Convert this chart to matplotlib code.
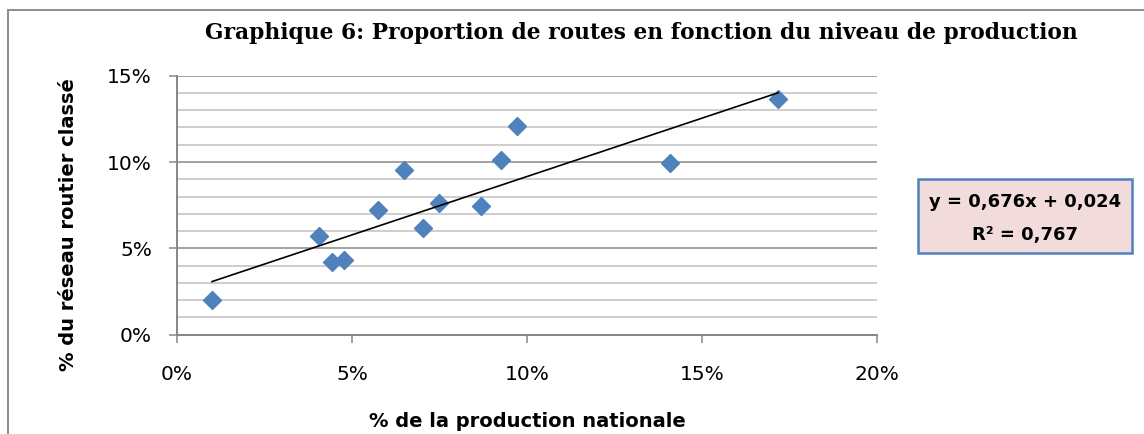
import numpy as np
import matplotlib
matplotlib.use("Agg")
import matplotlib.pyplot as plt
from matplotlib.ticker import PercentFormatter, MultipleLocator
from matplotlib.patches import Rectangle
from matplotlib.lines import Line2D

# % de la production nationale vs % du réseau routier classé
prod = np.array([1.0, 4.06, 4.44, 4.77, 5.75, 6.49, 7.04, 7.49, 8.69, 9.25, 9.71, 14.10, 17.18]) / 100
routes = np.array([1.99, 5.70, 4.21, 4.35, 7.25, 9.51, 6.18, 7.63, 7.46, 10.10, 12.08, 9.95, 13.64]) / 100

# courbe de tendance (Excel)
slope = 0.676
intercept = 0.024
r2 = 0.767

title = "Graphique 6: Proportion de routes en fonction du niveau de production"
xlabel = "% de la production nationale"
ylabel = "% du réseau routier classé"

blue = "#4F81BD"

fig = plt.figure(figsize=(11.44, 4.34), dpi=100)
ax = fig.add_axes([0.1547, 0.2288, 0.6119, 0.5968])

ax.set_xlim(0, 0.20)
ax.set_ylim(0, 0.15)
ax.xaxis.set_major_locator(MultipleLocator(0.05))
ax.yaxis.set_major_locator(MultipleLocator(0.05))
ax.yaxis.set_minor_locator(MultipleLocator(0.01))
ax.xaxis.set_major_formatter(PercentFormatter(xmax=1, decimals=0))
ax.yaxis.set_major_formatter(PercentFormatter(xmax=1, decimals=0))

ax.grid(axis="y", which="minor", color="#C0C0C0", lw=1.1)
ax.grid(axis="y", which="major", color="#878787", lw=1.1)
ax.set_axisbelow(True)

for s in ["top", "right"]:
    ax.spines[s].set_visible(False)
for s in ["left", "bottom"]:
    ax.spines[s].set_color("#878787")
    ax.spines[s].set_linewidth(1.4)

ax.tick_params(axis="both", which="major", length=6, width=1.1, color="#878787",
               labelsize=14.5, direction="out")
ax.tick_params(axis="x", pad=15.5)
ax.tick_params(axis="y", pad=12)
ax.tick_params(axis="y", which="minor", length=0)

ax.plot(prod, routes, linestyle="none", marker="D", markersize=9.2,
        color=blue, markeredgecolor=blue, zorder=3)

xs = np.array([prod.min(), prod.max()])
ax.plot(xs, slope * xs + intercept, color="black", lw=1.2, zorder=4)

fig.text(0.5603, 1 - 39 / 434, title, ha="center", va="baseline",
         family="DejaVu Serif", weight="bold", fontsize=15.7)
fig.text(0.4606, 1 - 412 / 434, xlabel, ha="center", va="top",
         weight="bold", fontsize=14)
fig.text(69 / 1144, 1 - 225 / 434, ylabel, ha="center", va="center",
         rotation=90, weight="bold", fontsize=14)

# encadré de l'équation
fig.add_artist(Rectangle((918 / 1144, 1 - 253 / 434), 214 / 1144, 74 / 434,
                         transform=fig.transFigure, facecolor="#F2DCDB",
                         edgecolor=blue, lw=1.8))
fig.text(1025 / 1144, 1 - 201.7 / 434, "y = 0,676x + 0,024", ha="center", va="center",
         weight="bold", fontsize=13)
fig.text(1025 / 1144, 1 - 235 / 434, "R² = 0,767", ha="center", va="center",
         weight="bold", fontsize=13)

# cadre du graphique
fig.add_artist(Line2D([8 / 1144, 1], [1 - 10 / 434, 1 - 10 / 434],
                      transform=fig.transFigure, color="#8C8C8C", lw=1.4))
fig.add_artist(Line2D([8 / 1144, 8 / 1144], [0, 1 - 10 / 434],
                      transform=fig.transFigure, color="#8C8C8C", lw=1.4))

fig.savefig("out.png", dpi=100)
